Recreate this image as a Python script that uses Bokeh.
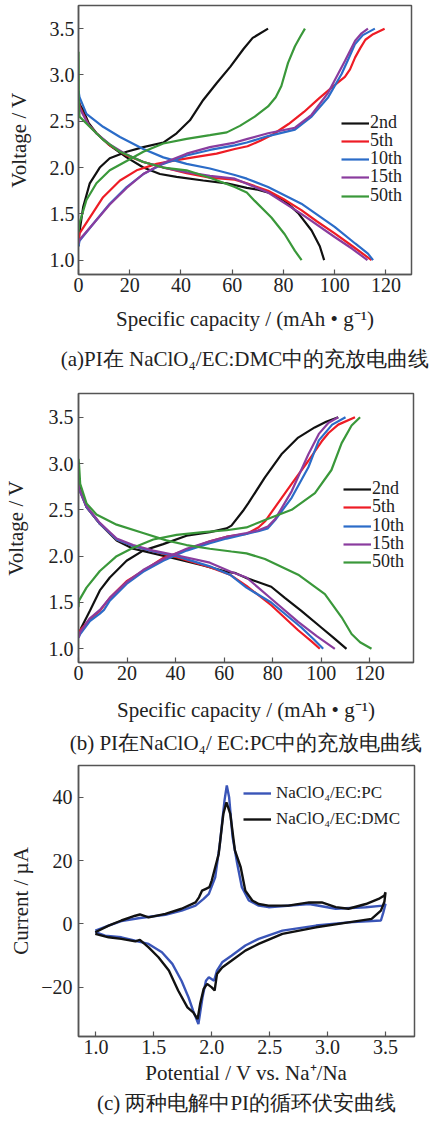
from bokeh.plotting import figure
from bokeh.layouts import column
from bokeh.models import FixedTicker, Legend, LegendItem, Range1d, PrintfTickFormatter, Title
from bokeh.embed import file_html
from bokeh.resources import INLINE

SERIF = "Liberation Serif"

# ---------------- Panel (a): NaClO4 / EC:DMC ----------------
a_series = ["2nd", "5th", "10th", "15th", "50th"]
a_2nd_chg_x = [0, 0.3, 1.8, 4.4, 8.3, 12.2, 18.8, 25.3, 33.1, 38.3, 43.5, 48.7, 53.9, 59.3, 64.4, 68, 74]
a_2nd_chg_y = [1.15, 1.29, 1.57, 1.83, 2.0, 2.10, 2.17, 2.22, 2.27, 2.37, 2.51, 2.73, 2.91, 3.09, 3.28, 3.40, 3.5]
a_2nd_dis_x = [0, 0.5, 1.8, 4, 7, 12.2, 18.8, 25.3, 31.8, 38.3, 48.7, 57.9, 65.7, 70, 75.3, 80.5, 85.7, 91, 94.2, 95.9]
a_2nd_dis_y = [2.75, 2.68, 2.62, 2.48, 2.37, 2.24, 2.11, 2.0, 1.93, 1.90, 1.86, 1.83, 1.78, 1.76, 1.72, 1.64, 1.51, 1.32, 1.15, 1.0]
a_5th_chg_x = [0, 0.4, 4.4, 9.6, 16.2, 22.7, 30.5, 38.3, 44.8, 53.9, 61, 66, 71, 76, 82, 88, 94, 100, 104, 106, 108, 110, 112, 115, 119.5]
a_5th_chg_y = [1.2, 1.29, 1.46, 1.68, 1.86, 1.97, 2.04, 2.08, 2.11, 2.15, 2.20, 2.23, 2.29, 2.36, 2.47, 2.60, 2.75, 2.89, 2.98, 3.06, 3.19, 3.29, 3.38, 3.44, 3.5]
a_5th_dis_x = [0, 0.5, 1.8, 4, 7, 12.2, 18.8, 25.3, 33.1, 42.2, 51.3, 61, 65.7, 74, 80, 87, 93, 100, 107, 114.4]
a_5th_dis_y = [2.72, 2.66, 2.58, 2.46, 2.37, 2.24, 2.13, 2.06, 2.0, 1.94, 1.89, 1.87, 1.83, 1.75, 1.66, 1.54, 1.42, 1.29, 1.15, 1.0]
a_10th_chg_x = [0, 0.4, 5.7, 12.2, 18.8, 25.3, 33.1, 42.2, 51.3, 61, 65.7, 74, 84.5, 91, 97.5, 102.7, 105.5, 107.9, 111, 115.7]
a_10th_chg_y = [1.15, 1.21, 1.39, 1.61, 1.79, 1.93, 2.04, 2.13, 2.19, 2.24, 2.27, 2.34, 2.41, 2.55, 2.76, 3.01, 3.18, 3.33, 3.43, 3.5]
a_10th_dis_x = [0, 0.4, 3.1, 9.6, 16.2, 25.3, 33.1, 42.2, 51.3, 61, 65.7, 74, 87, 100, 108, 113, 115]
a_10th_dis_y = [2.83, 2.76, 2.58, 2.44, 2.33, 2.20, 2.11, 2.04, 1.99, 1.92, 1.88, 1.79, 1.61, 1.36, 1.18, 1.07, 1.0]
a_15th_chg_x = [0, 0.4, 5.7, 12.2, 18.8, 25.3, 33.1, 42.2, 51.3, 61, 66, 74, 84.5, 91, 97.5, 104, 108, 110.5, 113]
a_15th_chg_y = [1.18, 1.22, 1.39, 1.60, 1.78, 1.93, 2.05, 2.15, 2.22, 2.27, 2.31, 2.37, 2.43, 2.57, 2.81, 3.15, 3.37, 3.45, 3.5]
a_15th_dis_x = [0, 0.5, 1.8, 4, 7, 12.2, 18.8, 25.3, 33.1, 42.2, 51.3, 61, 74, 87, 100, 107, 112.8]
a_15th_dis_y = [2.70, 2.64, 2.57, 2.46, 2.37, 2.25, 2.14, 2.06, 2.0, 1.95, 1.91, 1.88, 1.73, 1.50, 1.25, 1.12, 1.0]
a_50th_chg_x = [0, 0.3, 3.1, 7, 12.2, 18.8, 25.3, 33.1, 42.2, 51.3, 57.9, 63, 68.8, 74, 77, 79.2, 81.8, 84.5, 86.5, 88.4]
a_50th_chg_y = [1.3, 1.39, 1.65, 1.83, 1.97, 2.07, 2.17, 2.26, 2.31, 2.35, 2.38, 2.45, 2.55, 2.66, 2.76, 2.88, 3.13, 3.31, 3.41, 3.5]
a_50th_dis_x = [0, 0.1, 0.4, 4.4, 9.6, 16.2, 25.3, 33.1, 42.2, 51.3, 61, 65.7, 68.8, 75.3, 80.5, 84.5, 87.1]
a_50th_dis_y = [3.25, 2.75, 2.55, 2.44, 2.30, 2.17, 2.06, 2.0, 1.97, 1.89, 1.79, 1.73, 1.64, 1.46, 1.28, 1.10, 1.0]

# ---------------- Panel (b): NaClO4 / EC:PC ----------------
b_2nd_chg_x = [0, 1.2, 4.7, 8.8, 12.9, 19.8, 26.6, 34.9, 44.5, 54.1, 61, 63, 67.8, 69.9, 76.8, 83.6, 90.5, 97.3, 102, 107]
b_2nd_chg_y = [1.15, 1.23, 1.41, 1.63, 1.77, 1.95, 2.06, 2.13, 2.22, 2.26, 2.30, 2.33, 2.49, 2.57, 2.85, 3.10, 3.28, 3.39, 3.45, 3.5]
b_2nd_dis_x = [0, 0.3, 1, 3.3, 8.8, 15.7, 22.5, 30.8, 40.4, 51.4, 61, 64.3, 69.6, 79.4, 85, 91.8, 100, 105, 110.4]
b_2nd_dis_y = [2.85, 2.78, 2.70, 2.53, 2.35, 2.17, 2.08, 2.03, 1.97, 1.90, 1.83, 1.82, 1.76, 1.67, 1.55, 1.41, 1.23, 1.12, 1.0]
b_5th_chg_x = [0, 0.7, 4.7, 8.8, 12.9, 19.8, 26.6, 34.9, 44.5, 54.1, 61, 69.2, 74.1, 77, 81, 87.8, 94.7, 100.2, 103, 107, 113.9]
b_5th_chg_y = [1.15, 1.2, 1.32, 1.41, 1.55, 1.73, 1.84, 1.98, 2.07, 2.16, 2.21, 2.24, 2.31, 2.38, 2.53, 2.78, 3.03, 3.24, 3.33, 3.42, 3.5]
b_5th_dis_x = [0, 0.3, 3.3, 8.8, 15.7, 22.5, 30.8, 40.4, 54.1, 62.4, 69.2, 79.4, 90.5, 96, 99.4]
b_5th_dis_y = [2.78, 2.72, 2.53, 2.35, 2.18, 2.11, 2.05, 1.99, 1.88, 1.80, 1.68, 1.47, 1.20, 1.08, 1.0]
b_10th_chg_x = [0, 0.7, 4.7, 8.8, 10.5, 12.9, 19.8, 26.6, 34.9, 44.5, 54.1, 61, 69.2, 74.1, 78, 81, 87.8, 94.7, 99, 104.5, 110]
b_10th_chg_y = [1.12, 1.16, 1.30, 1.38, 1.42, 1.52, 1.70, 1.83, 1.95, 2.06, 2.14, 2.19, 2.24, 2.27, 2.30, 2.39, 2.63, 2.96, 3.25, 3.42, 3.5]
b_10th_dis_x = [0, 0.3, 3.3, 8.8, 15.7, 22.5, 30.8, 40.4, 54.1, 62.4, 69.2, 79.4, 91.8, 97, 100.8]
b_10th_dis_y = [2.78, 2.72, 2.53, 2.35, 2.18, 2.11, 2.05, 2.0, 1.89, 1.80, 1.66, 1.50, 1.23, 1.10, 1.0]
b_15th_chg_x = [0, 0.7, 4.7, 8.8, 12.9, 19.8, 26.6, 34.9, 44.5, 54.1, 61, 69.2, 74.1, 78, 81, 87.8, 94.7, 99, 103, 107]
b_15th_chg_y = [1.12, 1.18, 1.33, 1.42, 1.55, 1.72, 1.85, 1.97, 2.08, 2.16, 2.21, 2.25, 2.28, 2.32, 2.40, 2.70, 3.10, 3.32, 3.44, 3.5]
b_15th_dis_x = [0, 0.3, 3.3, 8.8, 15.7, 22.5, 30.8, 40.4, 54.1, 63, 69.2, 79.4, 90.5, 98, 105.6]
b_15th_dis_y = [2.80, 2.73, 2.54, 2.36, 2.19, 2.12, 2.06, 2.01, 1.93, 1.83, 1.77, 1.54, 1.29, 1.14, 1.0]
b_50th_chg_x = [0, 0.2, 3.3, 8.8, 15.7, 22.5, 30.8, 40.4, 51.4, 61, 69.2, 76.8, 87.8, 97.4, 104.2, 108.4, 112.5, 116]
b_50th_chg_y = [1.45, 1.52, 1.66, 1.84, 2.0, 2.09, 2.18, 2.23, 2.26, 2.28, 2.31, 2.39, 2.50, 2.68, 2.93, 3.22, 3.41, 3.5]
b_50th_dis_x = [0, 0.2, 0.7, 3.3, 7.4, 15.7, 26.6, 36.2, 44.5, 54.1, 63, 69.2, 76.8, 90.5, 101.5, 108.4, 112.5, 116, 120.7]
b_50th_dis_y = [3.05, 3.0, 2.78, 2.57, 2.45, 2.34, 2.25, 2.17, 2.12, 2.08, 2.05, 2.03, 1.97, 1.80, 1.59, 1.34, 1.16, 1.07, 1.0]

# ---------------- Panel (c): cyclic voltammetry ----------------
c_labels = ["NaClO\u2084/EC:PC", "NaClO\u2084/EC:DMC"]
c_dmc_E = [0.995, 1.11, 1.22, 1.34, 1.38, 1.455, 1.60, 1.74, 1.86, 1.89, 1.916, 1.95, 1.98, 2.0, 2.06, 2.10, 2.127,
           2.16, 2.20, 2.25, 2.29, 2.35, 2.405, 2.49, 2.66, 2.84, 2.95, 3.07, 3.18, 3.33, 3.44, 3.49, 3.5,
           3.49, 3.46, 3.38, 3.18, 2.90, 2.61, 2.405, 2.29, 2.17, 2.09, 2.045, 2.025, 2.0, 1.96, 1.93, 1.90,
           1.878, 1.84, 1.79, 1.71, 1.63, 1.54, 1.455, 1.38, 1.34, 1.22, 1.11, 0.995]
c_dmc_I = [-2.6, -0.5, 1.1, 2.6, 3.0, 2.1, 3.2, 4.8, 6.8, 8.4, 10.5, 11.1, 11.6, 13.7, 22.1, 34.7, 38.4,
           34.7, 23.2, 17.9, 10.5, 7.4, 6.3, 5.8, 5.8, 6.8, 6.8, 5.3, 4.8, 6.3, 7.9, 9.0, 10.0,
           7.0, 4.2, 1.6, 0.5, -1.05, -3.1, -6.3, -8.4, -11.6, -13.7, -15.8, -21.0, -20.0, -18.9, -20.5, -25.2,
           -30.0, -27.9, -26.3, -21.0, -14.7, -10.5, -7.4, -5.0, -5.5, -4.7, -4.2, -3.1]
c_pc_E = [0.995, 1.11, 1.22, 1.38, 1.60, 1.74, 1.86, 1.93, 1.975, 2.03, 2.07, 2.11, 2.13, 2.15, 2.18, 2.22,
          2.26, 2.32, 2.405, 2.49, 2.84, 3.07, 3.33, 3.48, 3.5,
          3.48, 3.46, 3.18, 2.90, 2.61, 2.405, 2.29, 2.17, 2.09, 2.045, 2.02, 1.975, 1.95, 1.92, 1.885,
          1.84, 1.80, 1.74, 1.66, 1.57, 1.455, 1.34, 1.22, 1.08, 0.995]
c_pc_I = [-2.1, -0.5, 0.9, 1.9, 2.9, 4.2, 5.8, 7.9, 9.5, 14.7, 25.3, 38.9, 43.7, 40.0, 27.4, 19.0,
          11.6, 7.4, 5.8, 5.3, 6.3, 4.8, 5.3, 5.8, 6.3,
          3.5, 1.1, 0.5, -0.5, -2.1, -4.7, -6.8, -10.0, -12.1, -14.7, -17.9, -16.8, -17.9, -23.2, -31.6,
          -27.4, -23.2, -18.0, -12.6, -8.9, -6.3, -5.3, -4.2, -3.7, -2.6]

cap_ticks = [0, 20, 40, 60, 80, 100, 120]
volt_ticks = [1.0, 1.5, 2.0, 2.5, 3.0, 3.5]
pot_ticks = [1.0, 1.5, 2.0, 2.5, 3.0, 3.5]
cur_ticks = [-20, 0, 20, 40]

captions = ["(a)PI\u5728 NaClO\u2084/EC:DMC\u4e2d\u7684\u5145\u653e\u7535\u66f2\u7ebf",
            "(b) PI\u5728NaClO\u2084/ EC:PC\u4e2d\u7684\u5145\u653e\u7535\u66f2\u7ebf",
            "(c) \u4e24\u79cd\u7535\u89e3\u4e2dPI\u7684\u5faa\u73af\u4f0f\u5b89\u66f2\u7ebf"]

cycle_colors = ["#111111", "#ee1c25", "#2b6cc8", "#8a3c9e", "#3a983a"]
cv_colors = ["#3a55b8", "#111111"]


def make_fig(fw, fh, left, right, top, bottom, xr, yr):
    p = figure(output_backend="svg", toolbar_location=None,
               frame_width=fw, frame_height=fh,
               min_border_left=left, min_border_right=right,
               min_border_top=top, min_border_bottom=bottom,
               x_range=Range1d(*xr), y_range=Range1d(*yr))
    p.grid.visible = False
    p.background_fill_color = "white"
    p.border_fill_color = "white"
    p.outline_line_color = "#555555"
    p.outline_line_width = 1.5
    p.outline_line_alpha = 1.0
    for ax in p.xaxis + p.yaxis:
        ax.axis_line_color = "#555555"
        ax.axis_line_width = 1.5
        ax.major_tick_line_color = "#555555"
        ax.major_tick_line_width = 1.2
        ax.major_tick_in = 5
        ax.major_tick_out = 0
        ax.minor_tick_line_color = None
        ax.major_label_text_font = SERIF
        ax.major_label_text_font_size = "20px"
        ax.major_label_text_color = "#222222"
        ax.axis_label_text_font = SERIF
        ax.axis_label_text_font_size = "21px"
        ax.axis_label_text_font_style = "normal"
        ax.axis_label_text_color = "#222222"
    return p


def caption(p, text, standoff):
    p.add_layout(Title(text=text, align="center", standoff=standoff,
                       text_font=SERIF, text_font_size="21px", text_font_style="normal",
                       text_color="#222222"), "below")


def legend_rows(p, items, xs, ys, size, glyph_h, standoff):
    for item, y in zip(items, ys):
        lg = Legend(items=[item], location=(xs, y), orientation="vertical",
                    label_text_font=SERIF, label_text_font_size=size, label_text_color="#222222",
                    glyph_width=28, glyph_height=glyph_h, label_height=glyph_h,
                    label_standoff=standoff, spacing=0, padding=0, margin=0,
                    border_line_alpha=0, background_fill_alpha=0)
        p.add_layout(lg, "center")


# ----- (a) ----- figure y 0..384
pa = make_fig(333, 269, 74, 23, 5, 110, (0, 130), (0.845, 3.75))
pa.xaxis.ticker = FixedTicker(ticks=cap_ticks)
pa.yaxis.ticker = FixedTicker(ticks=volt_ticks)
pa.yaxis.formatter = PrintfTickFormatter(format="%.1f")
pa.xaxis.axis_label = "Specific capacity / (mAh \u2022 g\u207b\u00b9)"
pa.yaxis.axis_label = "Voltage / V"
pa.xaxis.major_label_standoff = 3
pa.yaxis.major_label_standoff = 4
pa.xaxis.axis_label_standoff = 12
pa.yaxis.axis_label_standoff = 16
a_data = [(a_2nd_chg_x, a_2nd_chg_y, a_2nd_dis_x, a_2nd_dis_y),
          (a_5th_chg_x, a_5th_chg_y, a_5th_dis_x, a_5th_dis_y),
          (a_10th_chg_x, a_10th_chg_y, a_10th_dis_x, a_10th_dis_y),
          (a_15th_chg_x, a_15th_chg_y, a_15th_dis_x, a_15th_dis_y),
          (a_50th_chg_x, a_50th_chg_y, a_50th_dis_x, a_50th_dis_y)]
a_items = []
for name, col, (cx, cy, dx, dy) in zip(a_series, cycle_colors, a_data):
    r1 = pa.line(cx, cy, line_color=col, line_width=2.2)
    pa.line(dx, dy, line_color=col, line_width=2.2)
    a_items.append(LegendItem(label=name, renderers=[r1]))
legend_rows(pa, a_items, 263, [141, 123, 105, 87, 68], "18px", 18, 1)
caption(pa, captions[0], 22)

# ----- (b) ----- figure y 384..761
pb = make_fig(335, 269, 77, 18, 9, 99, (0, 138), (0.852, 3.756))
pb.xaxis.ticker = FixedTicker(ticks=cap_ticks)
pb.yaxis.ticker = FixedTicker(ticks=volt_ticks)
pb.yaxis.formatter = PrintfTickFormatter(format="%.1f")
pb.xaxis.axis_label = "Specific capacity / (mAh \u2022 g\u207b\u00b9)"
pb.yaxis.axis_label = "Voltage / V"
pb.xaxis.major_label_standoff = 3
pb.yaxis.major_label_standoff = 5
pb.xaxis.axis_label_standoff = 15
pb.yaxis.axis_label_standoff = 18
b_data = [(b_2nd_chg_x, b_2nd_chg_y, b_2nd_dis_x, b_2nd_dis_y),
          (b_5th_chg_x, b_5th_chg_y, b_5th_dis_x, b_5th_dis_y),
          (b_10th_chg_x, b_10th_chg_y, b_10th_dis_x, b_10th_dis_y),
          (b_15th_chg_x, b_15th_chg_y, b_15th_dis_x, b_15th_dis_y),
          (b_50th_chg_x, b_50th_chg_y, b_50th_dis_x, b_50th_dis_y)]
b_items = []
for name, col, (cx, cy, dx, dy) in zip(a_series, cycle_colors, b_data):
    r1 = pb.line(cx, cy, line_color=col, line_width=2.2)
    pb.line(dx, dy, line_color=col, line_width=2.2)
    b_items.append(LegendItem(label=name, renderers=[r1]))
legend_rows(pb, b_items, 265, [163, 145, 126, 108, 90], "18px", 18, 1)
caption(pb, captions[1], 8)

# ----- (c) ----- figure y 761..1121
pc = make_fig(336, 271, 70, 24, 4, 85, (0.85, 3.75), (-35.5, 50))
pc.xaxis.ticker = FixedTicker(ticks=pot_ticks)
pc.xaxis.formatter = PrintfTickFormatter(format="%.1f")
pc.yaxis.ticker = FixedTicker(ticks=cur_ticks)
pc.yaxis.major_label_overrides = {-20: "\u221220"}
pc.xaxis.axis_label = "Potential / V vs. Na\u207a/Na"
pc.yaxis.axis_label = "Current / \u00b5A"
pc.xaxis.major_label_standoff = 3
pc.yaxis.major_label_standoff = 6
pc.xaxis.axis_label_standoff = 4
pc.yaxis.axis_label_standoff = 5
r_pc = pc.line(c_pc_E, c_pc_I, line_color=cv_colors[0], line_width=2.4)
r_dmc = pc.line(c_dmc_E, c_dmc_I, line_color=cv_colors[1], line_width=2.4)
cv_items = [LegendItem(label=c_labels[0], renderers=[r_pc]),
            LegendItem(label=c_labels[1], renderers=[r_dmc])]
legend_rows(pc, cv_items, 165, [233, 207], "17px", 20, 5)
caption(pc, captions[2], 3)

layout = column(pa, pb, pc, spacing=0)
open("out.html", "w").write(file_html(layout, INLINE))
